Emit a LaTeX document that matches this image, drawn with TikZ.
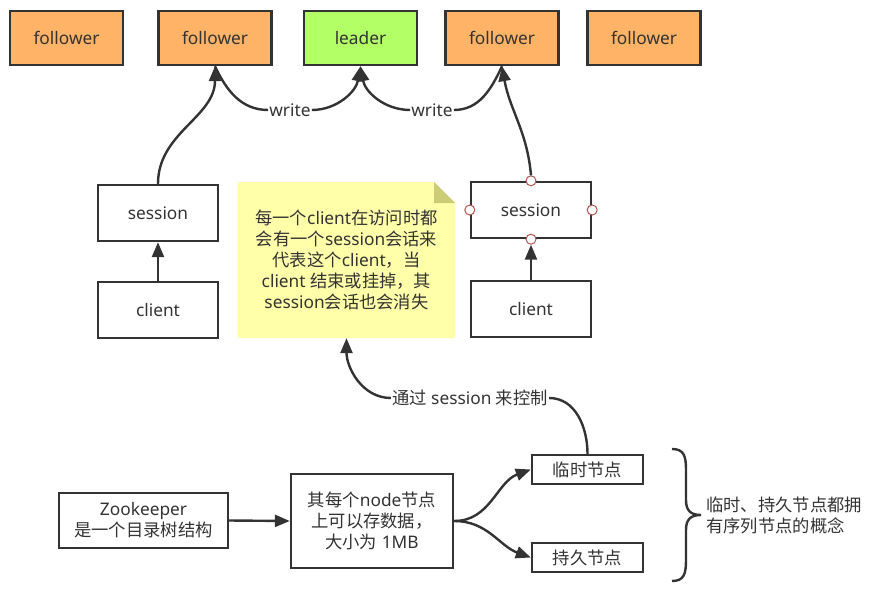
\documentclass[tikz,border=0pt]{standalone}
\usepackage{fontspec}
\setmainfont{Noto Sans}
\newfontfamily\latinf{Noto Sans}
\newfontfamily\cjkf[Scale=1.0]{Noto Sans CJK SC}
\XeTeXinterchartokenstate=1
\newXeTeXintercharclass\CJKcls
\makeatletter
\def\setcjkrange#1#2{\count@=#1\relax
  \loop\XeTeXcharclass\count@=\CJKcls\relax
  \ifnum\count@<#2\relax\advance\count@ by 1\relax\repeat}
\makeatother
\setcjkrange{"4E00}{"9FFF}
\setcjkrange{"3000}{"303F}
\setcjkrange{"FF00}{"FFEF}
\XeTeXinterchartoks 0 \CJKcls = {\cjkf}
\XeTeXinterchartoks 4095 \CJKcls = {\cjkf}
\XeTeXinterchartoks \CJKcls 0 = {\latinf}
\XeTeXinterchartoks \CJKcls 4095 = {\latinf}
\usetikzlibrary{arrows.meta}
\definecolor{txt}{HTML}{333333}
\definecolor{bd}{HTML}{333333}
\definecolor{orangef}{HTML}{FFB366}
\definecolor{greenf}{HTML}{B3FF66}
\definecolor{notefill}{HTML}{FFFFAA}
\definecolor{foldfill}{HTML}{CCCC77}
\definecolor{portc}{HTML}{B85450}
\begin{document}
\begin{tikzpicture}[x=1pt,y=1pt,
  every node/.style={font=\fontsize{17.3}{21}\selectfont, text=txt},
  box/.style={draw=bd, line width=2.4pt, fill=white, inner sep=0pt, align=center},
  conn/.style={draw=bd, line width=2.4pt},
  arr/.style={conn, -{Triangle[length=15pt,width=12pt]}},
  lbl/.style={inner sep=1pt},
  port/.style={circle, draw=portc, fill=white, line width=1pt, minimum size=10pt, inner sep=0pt}]
\useasboundingbox (0,0) rectangle (883,-594);
% top row
\node[box, fill=orangef, minimum width=113pt, minimum height=54pt] (f1) at (66.5,-38) {follower};
\node[box, fill=orangef, minimum width=113pt, minimum height=54pt] (f2) at (215,-38) {follower};
\node[box, fill=greenf, minimum width=113pt, minimum height=54pt] (ld) at (360.5,-38) {leader};
\node[box, fill=orangef, minimum width=113pt, minimum height=54pt] (f3) at (502,-38) {follower};
\node[box, fill=orangef, minimum width=113pt, minimum height=54pt] (f4) at (644,-38) {follower};
% sessions and clients
\node[box, minimum width=120pt, minimum height=56pt] (sl) at (158,-213) {session};
\node[box, minimum width=120pt, minimum height=56pt] (cl) at (158,-310) {client};
\node[box, minimum width=120pt, minimum height=56pt] (sr) at (531,-210) {session};
\node[box, minimum width=120pt, minimum height=56pt] (cr) at (531,-309) {client};
% note
\fill[notefill] (238,-182) -- (434,-182) -- (455,-203) -- (455,-338) -- (238,-338) -- cycle;
\fill[foldfill] (434,-182) -- (455,-203) -- (434,-203) -- cycle;
\node[inner sep=0pt, minimum width=217pt, minimum height=156pt, align=center] (note) at (346.5,-260)
  {每一个client在访问时都\\会有一个session会话来\\代表这个client，当\\client 结束或挂掉，其\\session会话也会消失};
% bottom
\node[box, minimum width=169pt, minimum height=55pt] (zk) at (143.5,-520.5) {Zookeeper\\是一个目录树结构};
\node[box, minimum width=162pt, minimum height=94pt] (mid) at (372,-521) {其每个node节点\\上可以存数据，\\大小为 1MB};
\node[box, minimum width=111pt, minimum height=29pt] (tn) at (587.5,-469.5) {临时节点};
\node[box, minimum width=111pt, minimum height=29pt] (pn) at (587.5,-557.5) {持久节点};
% labels
\node[lbl] (w1) at (290,-110) {write};
\node[lbl] (w2) at (432,-110) {write};
\node[lbl] (ctl) at (470,-398) {通过 session 来控制};
\node[anchor=west, align=left, inner sep=0pt] (bt) at (706,-515) {临时、持久节点都拥\\有序列节点的概念};
% connectors
\draw[arr] (sl.north) to[out=90,in=-90] (f2.south);
\draw[conn] (f2.south) to[out=-65,in=180] (w1.west);
\draw[arr] (w1.east) to[out=0,in=-100] (ld.south);
\draw[conn] (f3.south) to[out=-115,in=0] (w2.east);
\draw[arr] (w2.west) to[out=180,in=-80] (ld.south);
\node[port] (pt) at (sr.north) {};
\node[port] (pb) at (sr.south) {};
\node[port] (pl) at (sr.west) {};
\node[port] (pr) at (sr.east) {};
\draw[arr] (pt.north) to[out=95,in=-80] (f3.south);
\draw[arr] (cl.north) -- (sl.south);
\draw[arr] (cr.north) -- (pb.south);
\draw[conn] (tn.north) to[out=90,in=0] (ctl.east);
\draw[arr] (ctl.west) to[out=180,in=-90] (note.south);
\draw[arr] (zk.east) -- (mid.west);
\draw[arr] (mid.east) to[out=0,in=200] (tn.west);
\draw[arr] (mid.east) to[out=0,in=160] (pn.west);
% brace
\draw[conn] (672,-449) .. controls (684,-449) and (686,-456) .. (686,-470) -- (686,-500)
  .. controls (686,-510) and (690,-515) .. (701,-515)
  .. controls (690,-515) and (686,-520) .. (686,-530) -- (686,-560)
  .. controls (686,-574) and (684,-581) .. (672,-581);
\end{tikzpicture}
\end{document}
